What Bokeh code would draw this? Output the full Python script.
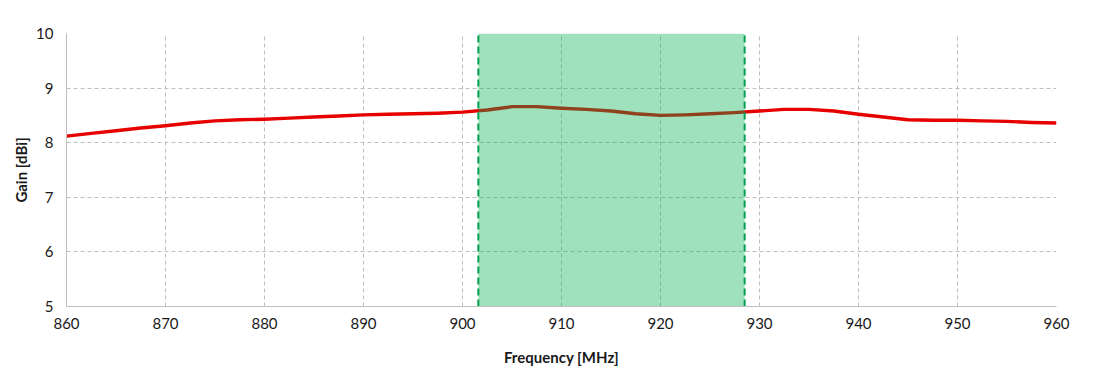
from bokeh.plotting import figure
from bokeh.models import FixedTicker, Range1d
from bokeh.embed import file_html
from bokeh.resources import INLINE

freq_mhz = [860, 862.5, 865, 867.5, 870, 872.5, 875, 877.5, 880, 882.5, 885, 887.5,
            890, 892.5, 895, 897.5, 900, 902.5, 905, 907.5, 910, 912.5, 915, 917.5,
            920, 922.5, 925, 927.5, 930, 932.5, 935, 937.5, 940, 942.5, 945, 947.5,
            950, 952.5, 955, 957.5, 960]
gain_dbi = [8.12, 8.17, 8.22, 8.27, 8.31, 8.36, 8.40, 8.42, 8.43, 8.45, 8.47, 8.49,
            8.51, 8.52, 8.53, 8.54, 8.56, 8.60, 8.66, 8.66, 8.63, 8.61, 8.58, 8.53,
            8.50, 8.51, 8.53, 8.55, 8.58, 8.61, 8.61, 8.58, 8.52, 8.47, 8.42, 8.41,
            8.41, 8.40, 8.39, 8.37, 8.36]
band_start = 901.6
band_end = 928.5
x_ticks = [860, 870, 880, 890, 900, 910, 920, 930, 940, 950, 960]
y_ticks = [5, 6, 7, 8, 9, 10]

p = figure(width=1100, height=368, output_backend="svg", toolbar_location=None,
           x_range=Range1d(860, 960), y_range=Range1d(5, 10),
           min_border_left=66, min_border_right=44, min_border_top=33, min_border_bottom=61)
p.outline_line_color = None
p.background_fill_color = "white"

p.line(freq_mhz, gain_dbi, line_color="#e60000", line_width=3.4, line_join="round")

p.quad(left=[band_start], right=[band_end], bottom=[5], top=[10],
       fill_color="#00b050", fill_alpha=0.38, line_color=None)
p.segment(x0=[band_start, band_end], y0=[5, 5], x1=[band_start, band_end], y1=[10, 10],
          line_color="#00a050", line_width=2, line_dash="7 4")

for ax in (p.xaxis, p.yaxis):
    ax.axis_line_color = "#bfbfbf"
    ax.major_tick_line_color = None
    ax.minor_tick_line_color = None
    ax.major_tick_out = 0
    ax.major_tick_in = 0
    ax.major_label_text_font = "Lato"
    ax.major_label_text_font_size = "15px"
    ax.major_label_text_color = "#1a1a1a"
    ax.axis_label_text_font = "Lato"
    ax.axis_label_text_font_size = "15px"
    ax.axis_label_text_font_style = "bold"
    ax.axis_label_text_color = "#1a1a1a"

p.xaxis.ticker = FixedTicker(ticks=x_ticks)
p.yaxis.ticker = FixedTicker(ticks=y_ticks)
p.xaxis.axis_label = "Frequency [MHz]"
p.yaxis.axis_label = "Gain [dBi]"
p.xaxis.major_label_standoff = 11
p.xaxis.axis_label_standoff = 16
p.yaxis.major_label_standoff = 13
p.yaxis.axis_label_standoff = 3

for g in (p.xgrid, p.ygrid):
    g.grid_line_color = "#bfbfbf"
    g.grid_line_dash = "4 3"
    g.grid_line_width = 1

open("out.html", "w").write(file_html(p, INLINE))
